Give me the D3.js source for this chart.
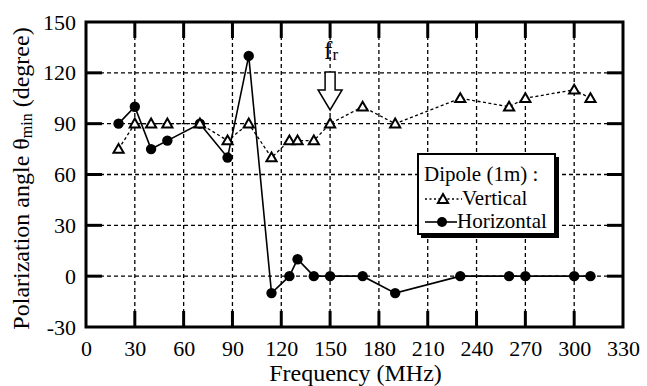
<!DOCTYPE html>
<html><head><meta charset="utf-8">
<script src="https://cdn.jsdelivr.net/npm/d3@7"></script>
<style>body{margin:0;background:#fff}svg{display:block}svg text{font-family:"Liberation Serif","Times New Roman",Times,"DejaVu Serif",serif !important;fill:#000}</style>
</head><body><svg id="c" width="647" height="386"></svg>
<script>
const freq = [20,30,40,50,70,87,100,114,125,130,140,150,170,190,230,260,270,300,310];
const vertical = [75,90,90,90,90,80,90,70,80,80,80,90,100,90,105,100,105,110,105];
const horizontal = [90,100,75,80,90,70,130,-10,0,10,0,0,0,-10,0,0,0,0,0];
const xTicks = [0,30,60,90,120,150,180,210,240,270,300,330];
const yTicks = [-30,0,30,60,90,120,150];
const frFreq = 150;

const svg = d3.select("#c");
const m = {l:86, r:623, t:22, b:327};
const x = d3.scaleLinear().domain([0,330]).range([m.l,m.r]);
const y = d3.scaleLinear().domain([-30,150]).range([m.b,m.t]);

// grid
const g = svg.append("g");
xTicks.slice(1,-1).forEach(v=>g.append("line").attr("x1",x(v)).attr("x2",x(v)).attr("y1",m.t).attr("y2",m.b)
  .attr("stroke","#000").attr("stroke-width",1.3).attr("stroke-dasharray","4,3"));
yTicks.slice(1,-1).forEach(v=>g.append("line").attr("y1",y(v)).attr("y2",y(v)).attr("x1",m.l).attr("x2",m.r)
  .attr("stroke","#000").attr("stroke-width",1.3).attr("stroke-dasharray","4,3"));

// axes
const fs = 22;
const ax = d3.axisBottom(x).tickValues(xTicks).tickFormat(d=>String(d)).tickSize(0).tickPadding(13);
const axG = svg.append("g").attr("transform",`translate(0,${m.b})`).call(ax).attr("font-family",null);
axG.select(".domain").remove();
axG.selectAll("text").attr("font-size",fs);
const ay = d3.axisLeft(y).tickValues(yTicks).tickFormat(d=>String(d)).tickSize(0).tickPadding(10);
const ayG = svg.append("g").attr("transform",`translate(${m.l},0)`).call(ay).attr("font-family",null);
ayG.select(".domain").remove();
ayG.selectAll("text").attr("font-size",fs);

// inward ticks
const tl = 16;
xTicks.slice(1,-1).forEach(v=>{
  g.append("line").attr("x1",x(v)).attr("x2",x(v)).attr("y1",m.b).attr("y2",m.b-tl).attr("stroke","#000").attr("stroke-width",3);
  g.append("line").attr("x1",x(v)).attr("x2",x(v)).attr("y1",m.t).attr("y2",m.t+tl).attr("stroke","#000").attr("stroke-width",3);
});
yTicks.slice(1,-1).forEach(v=>{
  g.append("line").attr("y1",y(v)).attr("y2",y(v)).attr("x1",m.l).attr("x2",m.l+tl).attr("stroke","#000").attr("stroke-width",3);
  g.append("line").attr("y1",y(v)).attr("y2",y(v)).attr("x1",m.r).attr("x2",m.r-tl).attr("stroke","#000").attr("stroke-width",3);
});
svg.append("rect").attr("x",m.l).attr("y",m.t).attr("width",m.r-m.l).attr("height",m.b-m.t)
  .attr("fill","none").attr("stroke","#000").attr("stroke-width",3);

// series
const line = d3.line().x((d,i)=>x(freq[i])).y(d=>y(d));
svg.append("path").datum(vertical).attr("d",line).attr("fill","none").attr("stroke","#000")
  .attr("stroke-width",1.3).attr("stroke-dasharray","3,2.5");
svg.append("path").datum(horizontal).attr("d",line).attr("fill","none").attr("stroke","#000").attr("stroke-width",1.6);
svg.selectAll("circle.h").data(horizontal).enter().append("circle").attr("class","h")
  .attr("cx",(d,i)=>x(freq[i])).attr("cy",d=>y(d)).attr("r",5.2).attr("fill","#000");
const tri = d3.symbol().type(d3.symbolTriangle).size(45);
svg.selectAll("path.v").data(vertical).enter().append("path").attr("class","v")
  .attr("d",tri).attr("transform",(d,i)=>`translate(${x(freq[i])},${y(d)+0.8})`)
  .attr("fill","#fff").attr("stroke","#000").attr("stroke-width",2);

// fr arrow
const ax0 = x(frFreq);
const arrow = [[ax0-5,72],[ax0+5,72],[ax0+5,90],[ax0+12,90],[ax0,110],[ax0-12,90],[ax0-5,90]];
svg.append("path").attr("d",d3.line()(arrow)+"Z").attr("fill","#fff").attr("stroke","#000").attr("stroke-width",1.5);
const fr = svg.append("text").attr("x",ax0-6).attr("y",59).attr("font-size",25);
fr.append("tspan").text("f");
fr.append("tspan").attr("font-size",17).attr("dy",1).text("r");

// legend
const lg = svg.append("g");
lg.append("rect").attr("x",421).attr("y",157).attr("width",138).attr("height",81).attr("fill","#000");
lg.append("rect").attr("x",418).attr("y",154).attr("width",137).attr("height",80).attr("fill","#fff").attr("stroke","#000").attr("stroke-width",2);
lg.append("text").attr("x",424).attr("y",181).attr("font-size",21).text("Dipole (1m) :");
lg.append("line").attr("x1",425).attr("x2",462).attr("y1",199).attr("y2",199).attr("stroke","#000").attr("stroke-width",1.3).attr("stroke-dasharray","2,2.5");
lg.append("path").attr("d",tri).attr("transform","translate(443,200)").attr("fill","#fff").attr("stroke","#000").attr("stroke-width",2);
lg.append("text").attr("x",462).attr("y",205).attr("font-size",21).text("Vertical");
lg.append("line").attr("x1",425).attr("x2",457).attr("y1",222).attr("y2",222).attr("stroke","#000").attr("stroke-width",1.6);
lg.append("circle").attr("cx",442).attr("cy",222).attr("r",5).attr("fill","#000");
lg.append("text").attr("x",457).attr("y",228).attr("font-size",21).text("Horizontal");

// axis titles
svg.append("text").attr("x",(m.l+m.r)/2+1).attr("y",381).attr("text-anchor","middle").attr("font-size",24).text("Frequency (MHz)");
const yt = svg.append("text").attr("transform",`translate(29,${(m.t+m.b)/2+4}) rotate(-90)`).attr("text-anchor","middle").attr("font-size",24);
yt.append("tspan").text("Polarization angle θ");
yt.append("tspan").attr("font-size",16).attr("dy",3).text("min");
yt.append("tspan").attr("dy",-3).text(" (degree)");
</script></body></html>
